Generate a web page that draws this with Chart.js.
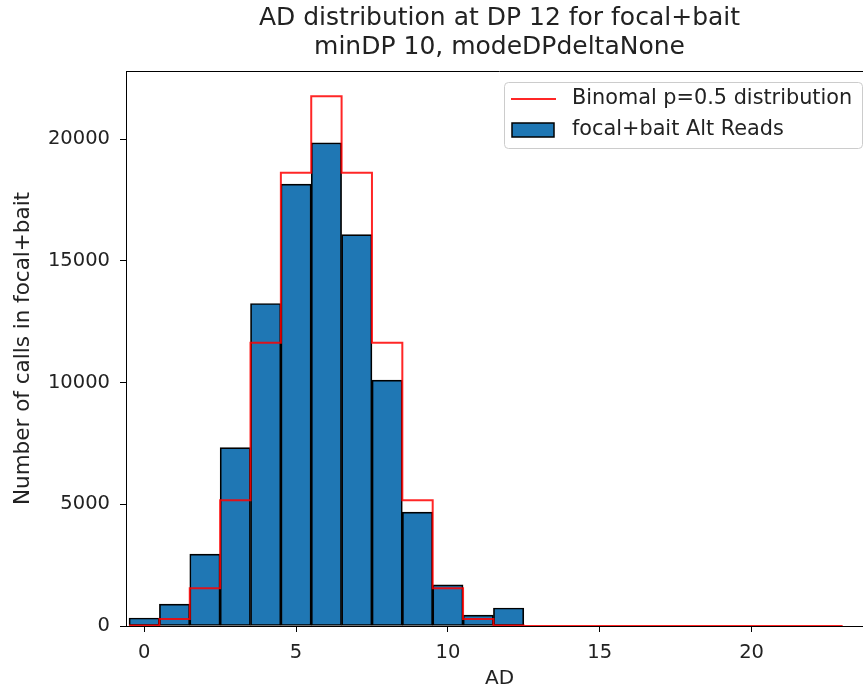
<!DOCTYPE html>
<html>
<head>
<meta charset="utf-8">
<script src="https://cdn.jsdelivr.net/npm/chart.js@4.4.1/dist/chart.umd.min.js"></script>
<style>
  html, body { margin: 0; padding: 0; background: #fff; overflow: hidden; }
  #wrap { width: 863px; height: 692px; overflow: hidden; }
</style>
</head>
<body>
<div id="wrap"><canvas id="adChart" width="880" height="692"></canvas></div>
<script>
// AD values (histogram bins, width 1, centred on the integer)
const adValues = [0, 1, 2, 3, 4, 5, 6, 7, 8, 9, 10, 11, 12, 13, 14, 15, 16, 17, 18, 19, 20, 21, 22, 23];
// observed calls per AD
const altReads = [330, 900, 2950, 7330, 13250, 18150, 19850, 16080, 10100, 4680, 1690, 450, 740, 0, 0, 0, 0, 0, 0, 0, 0, 0, 0, 0];
// expected calls from Binomial(12, 0.5)
const binomial = [25, 290, 1550, 5170, 11640, 18620, 21760, 18620, 11640, 5170, 1550, 290, 25, 0, 0, 0, 0, 0, 0, 0, 0, 0, 0, 0];
const binomialEnd = 23;

const xTicks = [0, 5, 10, 15, 20];
const yTicks = [0, 5000, 10000, 15000, 20000];

const titleLines = ["AD distribution at DP 12 for focal+bait", "minDP 10, modeDPdeltaNone"];
const xLabel = "AD";
const yLabel = "Number of calls in focal+bait";
const lineLabel = "Binomal p=0.5 distribution";
const barLabel = "focal+bait Alt Reads";

const FONT = "'DejaVu Sans', sans-serif";
const TEXT = "#222";
const BLUE = "#1f77b4";
const RED = "rgba(255, 0, 0, 0.85)";

const barData = adValues.map((ad, i) => ({ x: ad, y: altReads[i] }));
// step edges: each bin value holds from its left edge to the next edge
const stepData = adValues.map((ad, i) => ({ x: ad - 0.5, y: binomial[i] }));
stepData.push({ x: binomialEnd, y: 0 });

// title, frame and legend drawn by hand like the matplotlib figure
const extrasPlugin = {
  id: "extras",
  afterDraw(chart) {
    const ctx = chart.ctx;
    const a = chart.chartArea;
    ctx.save();

    // top and right spines
    ctx.strokeStyle = "#000";
    ctx.lineWidth = 1;
    ctx.beginPath();
    ctx.moveTo(a.left, a.top + 0.5);
    ctx.lineTo(a.right, a.top + 0.5);
    ctx.lineTo(a.right, a.bottom);
    ctx.stroke();

    // title
    ctx.fillStyle = TEXT;
    ctx.font = "25px " + FONT;
    ctx.textAlign = "center";
    ctx.textBaseline = "middle";
    const cx = (a.left + a.right) / 2;
    ctx.fillText(titleLines[0], cx, 18);
    ctx.fillText(titleLines[1], cx, 47);

    // legend
    const lx = 504, ly = 82, lw = 358, lh = 66;
    ctx.fillStyle = "rgba(255,255,255,0.8)";
    ctx.strokeStyle = "#cccccc";
    ctx.lineWidth = 1;
    ctx.beginPath();
    ctx.roundRect(lx + 0.5, ly + 0.5, lw, lh, 4);
    ctx.fill();
    ctx.stroke();

    ctx.strokeStyle = RED;
    ctx.lineWidth = 2;
    ctx.beginPath();
    ctx.moveTo(511, 99);
    ctx.lineTo(556, 99);
    ctx.stroke();

    ctx.fillStyle = BLUE;
    ctx.fillRect(512, 123, 42, 14);
    ctx.strokeStyle = "#000";
    ctx.lineWidth = 1.5;
    ctx.strokeRect(512, 123, 42, 14);

    ctx.fillStyle = TEXT;
    ctx.font = "20.8px " + FONT;
    ctx.textAlign = "left";
    ctx.textBaseline = "middle";
    ctx.fillText(lineLabel, 572, 99);
    ctx.fillText(barLabel, 572, 130);
    ctx.restore();
  }
};

new Chart(document.getElementById("adChart"), {
  type: "bar",
  data: {
    datasets: [{
      type: "line",
      label: lineLabel,
      data: stepData,
      stepped: "before",
      borderColor: RED,
      borderWidth: 2,
      pointRadius: 0,
      fill: false,
      order: 0
    }, {
      type: "bar",
      label: barLabel,
      data: barData,
      backgroundColor: BLUE,
      borderColor: "#000",
      borderWidth: 1.7,
      borderSkipped: false,
      barPercentage: 1,
      categoryPercentage: 1,
      order: 1
    }]
  },
  options: {
    responsive: false,
    animation: false,
    events: [],
    layout: { padding: { top: 71, right: 7, left: 0, bottom: 0 } },
    plugins: {
      legend: { display: false },
      title: { display: false },
      tooltip: { enabled: false }
    },
    scales: {
      x: {
        type: "linear",
        min: -0.6,
        max: 24,
        offset: false,
        afterFit: (s) => { s.height = 66; },
        afterBuildTicks: (s) => { s.ticks = xTicks.map(v => ({ value: v })); },
        grid: { offset: false, drawOnChartArea: false, drawTicks: true, tickLength: 6, color: "#000" },
        border: { display: true, color: "#000", width: 1 },
        ticks: {
          color: TEXT,
          font: { family: FONT, size: 19.5 },
          padding: 9,
          maxRotation: 0,
          callback: (v) => String(v)
        },
        title: {
          display: true,
          text: xLabel,
          color: TEXT,
          font: { family: FONT, size: 20 },
          padding: { top: 0, bottom: 1 }
        }
      },
      y: {
        min: 0,
        max: 22800,
        afterFit: (s) => { s.width = 126; },
        afterBuildTicks: (s) => { s.ticks = yTicks.map(v => ({ value: v })); },
        grid: { drawOnChartArea: false, drawTicks: true, tickLength: 6, color: "#000" },
        border: { display: true, color: "#000", width: 1 },
        ticks: {
          color: TEXT,
          font: { family: FONT, size: 19.5 },
          padding: 10,
          callback: (v) => String(v)
        },
        title: {
          display: true,
          text: yLabel,
          color: TEXT,
          font: { family: FONT, size: 21.5 },
          padding: { top: 11, bottom: 0 }
        }
      }
    }
  },
  plugins: [extrasPlugin]
});
</script>
</body>
</html>
